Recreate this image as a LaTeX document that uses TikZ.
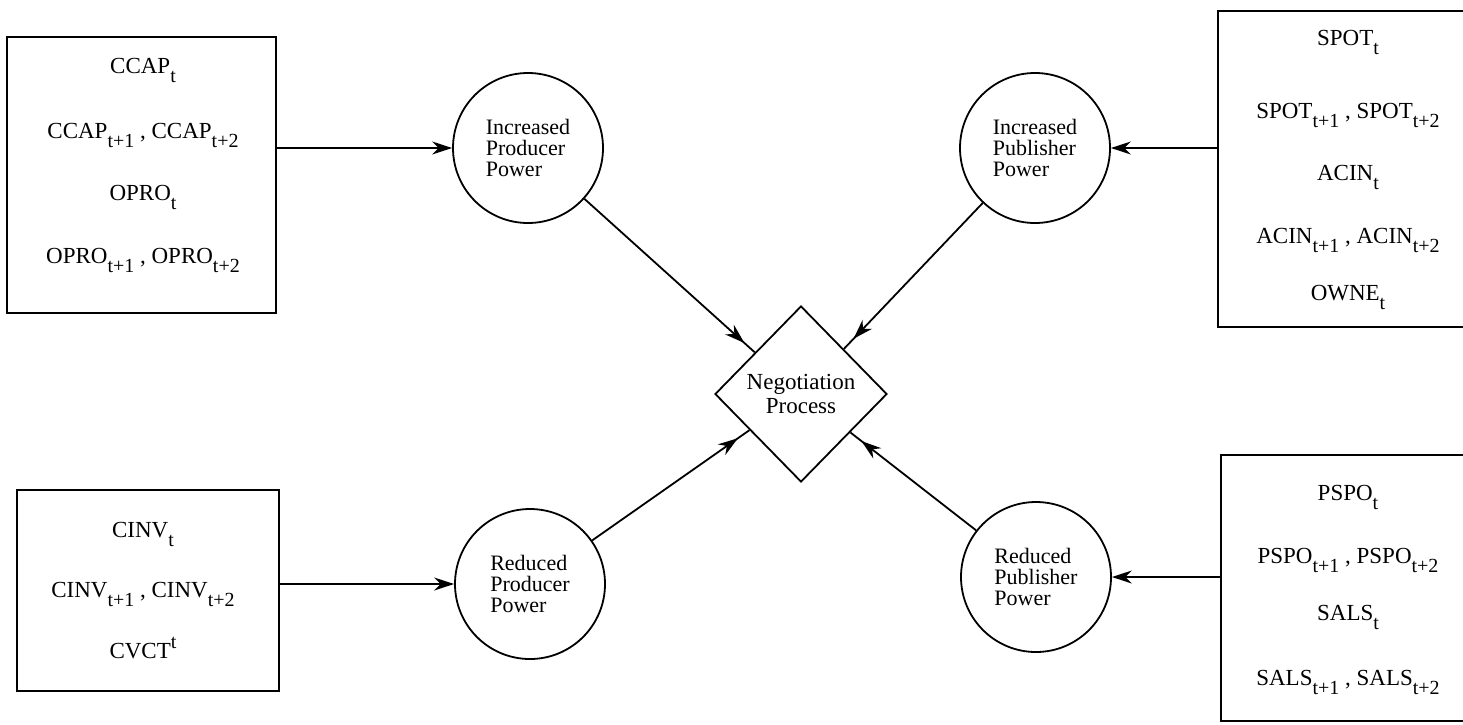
\documentclass[tikz,border=0pt]{standalone}
\usepackage{fontspec}
\setmainfont{Liberation Serif}
\usetikzlibrary{shapes.geometric,arrows.meta,decorations.markings}
\newcommand\lo[1]{\raisebox{-9pt}{\fontsize{20}{20}\selectfont #1}}
\newcommand\hi[1]{\raisebox{10pt}{\fontsize{20}{20}\selectfont #1}}
\tikzset{
  boxnode/.style={draw, line width=2pt, inner sep=0pt},
  boxline/.style={anchor=base, inner sep=0pt, font=\fontsize{23}{23}\selectfont},
  powernode/.style={draw, circle, line width=1.8pt, minimum size=150pt, inner sep=0pt,
    align=left, font=\fontsize{22}{21}\selectfont},
  negnode/.style={draw, diamond, line width=1.8pt, minimum width=172pt, minimum height=176pt,
    inner sep=0pt, align=center, font=\fontsize{23}{24}\selectfont},
  harrow/.style={line width=1.8pt, -{Stealth[length=20pt,width=13pt]}},
  darrow/.style={line width=1.8pt, postaction={decorate},
    decoration={markings, mark=at position -14pt with {\arrow{Stealth[length=20pt,width=13pt]}}}}
}
\begin{document}
\begin{tikzpicture}[x=1pt,y=-1pt]
\useasboundingbox (0,0) rectangle (1463,724);
\clip (0,0) rectangle (1463,724);
\fill[white] (0,0) rectangle (1463,724);

% boxes
\node[boxnode, minimum width=269pt, minimum height=276pt] (tlbox) at (141.5,175) {};
\node[boxnode, minimum width=262pt, minimum height=201pt] (blbox) at (148,590.5) {};
\node[boxnode, minimum width=262pt, minimum height=316pt] (trbox) at (1349,169) {};
\node[boxnode, minimum width=259pt, minimum height=266pt] (brbox) at (1350.5,588) {};

% top-left text
\node[boxline] (tl1) at (143,73) {CCAP\lo{t}};
\node[boxline] (tl2) at (143,138) {CCAP\lo{t+1} , CCAP\lo{t+2}};
\node[boxline] (tl3) at (143,200) {OPRO\lo{t}};
\node[boxline] (tl4) at (143,263) {OPRO\lo{t+1} , OPRO\lo{t+2}};

% bottom-left text
\node[boxline] (bl1) at (143,537) {CINV\lo{t}};
\node[boxline] (bl2) at (143,597) {CINV\lo{t+1} , CINV\lo{t+2}};
\node[boxline] (bl3) at (143,658) {CVCT\hi{t}};

% top-right text
\node[boxline] (tr1) at (1348,45) {SPOT\lo{t}};
\node[boxline] (tr2) at (1348,118) {SPOT\lo{t+1} , SPOT\lo{t+2}};
\node[boxline] (tr3) at (1348,180) {ACIN\lo{t}};
\node[boxline] (tr4) at (1348,243) {ACIN\lo{t+1} , ACIN\lo{t+2}};
\node[boxline] (tr5) at (1348,300) {OWNE\lo{t}};

% bottom-right text
\node[boxline] (br1) at (1348,500) {PSPO\lo{t}};
\node[boxline] (br2) at (1348,563) {PSPO\lo{t+1} , PSPO\lo{t+2}};
\node[boxline] (br3) at (1348,620) {SALS\lo{t}};
\node[boxline] (br4) at (1348,685) {SALS\lo{t+1} , SALS\lo{t+2}};

% circles
\node[powernode] (ipp) at (528,148) {Increased\\Producer\\Power};
\node[powernode] (ipb) at (1035,148) {Increased\\Publisher\\Power};
\node[powernode] (rpp) at (530,584) {Reduced\\Producer\\Power};
\node[powernode] (rpb) at (1036,577) {Reduced\\Publisher\\Power};

% diamond
\node[negnode] (neg) at (801,394) {Negotiation\\Process};

% horizontal arrows
\draw[harrow] (tlbox.east |- ipp.west) -- (ipp.west);
\draw[harrow] (blbox.east |- rpp.west) -- (rpp.west);
\draw[harrow] (trbox.west |- ipb.east) -- (ipb.east);
\draw[harrow] (brbox.west |- rpb.east) -- (rpb.east);

% diagonal arrows
\draw[darrow] (ipp) -- (neg);
\draw[darrow] (ipb) -- (neg);
\draw[darrow] (rpp) -- (neg);
\draw[darrow] (rpb) -- (neg);
\end{tikzpicture}
\end{document}
